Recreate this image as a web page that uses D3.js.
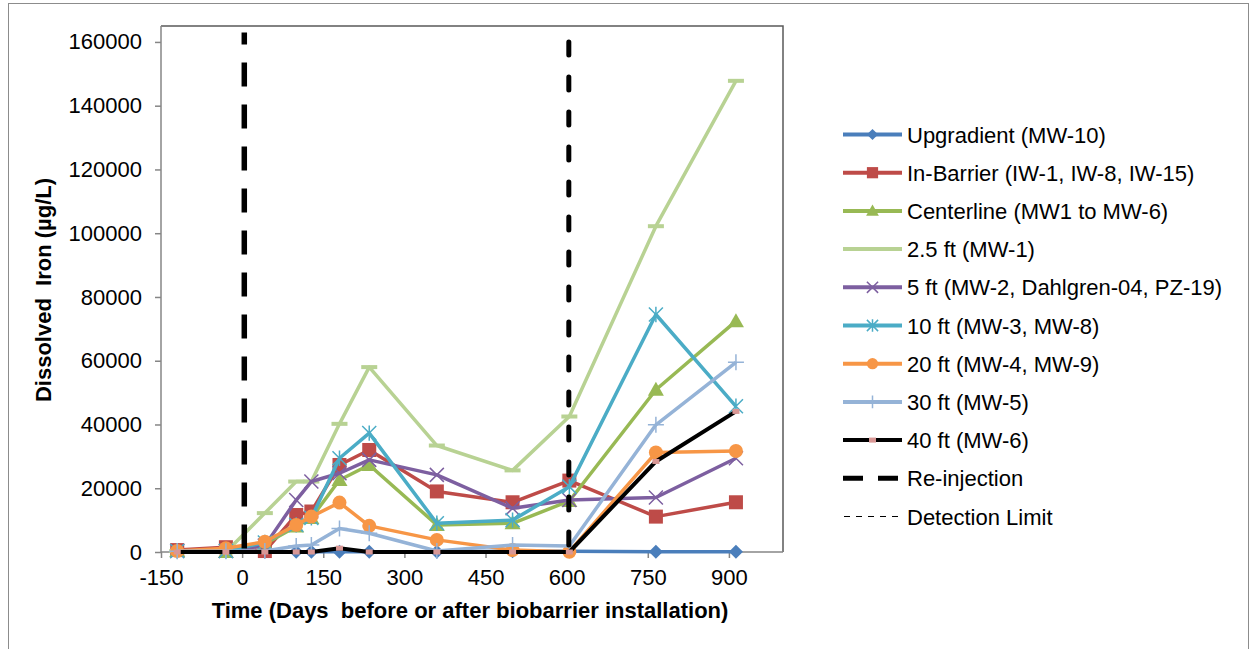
<!DOCTYPE html>
<html><head><meta charset="utf-8">
<script src="https://cdn.jsdelivr.net/npm/d3@7"></script>
<style>html,body{margin:0;padding:0;background:#fff;}svg{display:block;font-family:"Liberation Sans",Arial,sans-serif;}</style>
</head><body>
<svg id="chart" width="1251" height="649"></svg>
<script>
// ---- data ----
const days = [-120, -30, 42, 100, 128, 180, 235, 360, 500, 605, 765, 913];
const upgradient = [200, 300, 100, 100, 100, 100, 100, 100, 200, 200, 100, 100];
const inBarrier = [600, 1500, 300, 11600, 12700, 27300, 32000, 19000, 15600, 22400, 11100, 15600];
const centerline = [300, 0, 2500, 8000, 10700, 22600, 27300, 8500, 9000, 16000, 50900, 72400];
const ft2_5 = [300, 0, 12200, 22100, 22100, 40200, 58000, 33400, 25600, 42500, 102200, 147800];
const ft5 = [300, 300, 2000, 16300, 22100, 24700, 28900, 24200, 13700, 16300, 17100, 29400];
const ft10 = [300, 300, 3000, 8500, 10700, 29400, 37300, 9000, 10000, 20500, 74500, 45700];
const ft20 = [300, 1200, 3200, 8500, 11100, 15500, 8200, 3800, 600, 100, 31200, 31700];
const ft30 = [200, 200, 300, 1900, 2200, 7400, 5900, 300, 2200, 1900, 39900, 59500];
const ft40 = [0, 0, 0, 0, 0, 1200, 0, 0, 0, 0, 28400, 44100];
const reinjectionDays = [4, 604];
const reinjectionTop = [163000, 160000];
const seriesNames = ["Upgradient (MW-10)", "In-Barrier (IW-1, IW-8, IW-15)", "Centerline (MW1 to MW-6)",
  "2.5 ft (MW-1)", "5 ft (MW-2, Dahlgren-04, PZ-19)", "10 ft (MW-3, MW-8)", "20 ft (MW-4, MW-9)",
  "30 ft (MW-5)", "40 ft (MW-6)"];
const xTicks = [-150, 0, 150, 300, 450, 600, 750, 900];
const yTicks = [0, 20000, 40000, 60000, 80000, 100000, 120000, 140000, 160000];

// ---- setup ----
const svg = d3.select("#chart");
const x = d3.scaleLinear().domain([-150, 1000]).range([161, 783]);
const y = d3.scaleLinear().domain([0, 165000]).range([552, 26]);

const series = [
  {name: seriesNames[0], vals: upgradient, color: "#4A7EBB", marker: "diamond"},
  {name: seriesNames[1], vals: inBarrier, color: "#BE4B48", marker: "square"},
  {name: seriesNames[2], vals: centerline, color: "#98B954", marker: "triangle"},
  {name: seriesNames[3], vals: ft2_5, color: "#B8D293", marker: "dash"},
  {name: seriesNames[4], vals: ft5, color: "#7D5FA0", marker: "x"},
  {name: seriesNames[5], vals: ft10, color: "#4BACC6", marker: "star"},
  {name: seriesNames[6], vals: ft20, color: "#F79646", marker: "circle"},
  {name: seriesNames[7], vals: ft30, color: "#95B3D7", marker: "plus"},
  {name: seriesNames[8], vals: ft40, color: "#000000", marker: "pink", width: 4}
];

// outer border
svg.append("rect").attr("x", 8.5).attr("y", 3.5).attr("width", 1240).attr("height", 660)
  .attr("fill", "none").attr("stroke", "#8c8c8c").attr("stroke-width", 1);

// plot frame top/right
svg.append("path").attr("d", `M${x(-150)},${y(165000)}H${x(1000)}V${y(0)}`)
  .attr("fill", "none").attr("stroke", "#595959").attr("stroke-width", 1.5);

// axes
const fmt = d => String(d);
const yAxis = d3.axisLeft(y).tickValues(yTicks).tickSize(6).tickPadding(13).tickFormat(fmt);
const gy = svg.append("g").attr("transform", `translate(${x(-150)},0)`).call(yAxis);
gy.select(".domain").attr("d", `M0,${y(165000)}V${y(0)}`).attr("stroke", "#868686").attr("stroke-width", 1.5);
gy.selectAll(".tick line").attr("stroke", "#868686").attr("stroke-width", 1.5);
gy.selectAll(".tick text").attr("font-size", 22).attr("fill", "#000").attr("font-family", "Liberation Sans, Arial, sans-serif");

const xAxis = d3.axisBottom(x).tickValues(xTicks).tickSize(6).tickPadding(12).tickFormat(fmt);
const gx = svg.append("g").attr("transform", `translate(0,${y(0)})`).call(xAxis);
gx.select(".domain").attr("d", `M${x(-150)},0H${x(1000)}`).attr("stroke", "#868686").attr("stroke-width", 1.5);
gx.selectAll(".tick line").attr("stroke", "#868686").attr("stroke-width", 1.5);
gx.selectAll(".tick text").attr("font-size", 22).attr("fill", "#000").attr("font-family", "Liberation Sans, Arial, sans-serif")
  .attr("dy", null).attr("y", 33);

// axis titles
svg.append("text").attr("x", 470).attr("y", 618).attr("text-anchor", "middle").attr("font-size", 22)
  .attr("font-weight", "bold").attr("xml:space", "preserve").text("Time (Days  before or after biobarrier installation)");
svg.append("text").attr("transform", "translate(51,290) rotate(-90)").attr("text-anchor", "middle")
  .attr("font-size", 22).attr("font-weight", "bold").attr("xml:space", "preserve").text("Dissolved  Iron (µg/L)");

// marker drawing
function drawMarker(g, type, cx, cy, color, scale) {
  const s = scale || 1;
  if (type === "diamond") {
    const r = 7 * s;
    g.append("path").attr("d", `M${cx},${cy - r}L${cx + r},${cy}L${cx},${cy + r}L${cx - r},${cy}Z`).attr("fill", color);
  } else if (type === "square") {
    const h = 7 * s;
    g.append("rect").attr("x", cx - h).attr("y", cy - h).attr("width", 2 * h).attr("height", 2 * h).attr("fill", color);
  } else if (type === "triangle") {
    const h = 8 * s;
    g.append("path").attr("d", `M${cx},${cy - h}L${cx + h},${cy + h * 0.75}L${cx - h},${cy + h * 0.75}Z`).attr("fill", color);
  } else if (type === "dash") {
    g.append("rect").attr("x", cx - 8 * s).attr("y", cy - 2).attr("width", 16 * s).attr("height", 4).attr("fill", color);
  } else if (type === "x") {
    const r = 7 * s;
    g.append("path").attr("d", `M${cx - r},${cy - r}L${cx + r},${cy + r}M${cx - r},${cy + r}L${cx + r},${cy - r}`)
      .attr("stroke", color).attr("stroke-width", 1.5);
  } else if (type === "star") {
    const r = 7 * s;
    g.append("path").attr("d", `M${cx - r},${cy - r}L${cx + r},${cy + r}M${cx - r},${cy + r}L${cx + r},${cy - r}M${cx},${cy - r * 1.1}V${cy + r * 1.1}`)
      .attr("stroke", color).attr("stroke-width", 1.5);
  } else if (type === "circle") {
    g.append("circle").attr("cx", cx).attr("cy", cy).attr("r", 7 * s).attr("fill", color);
  } else if (type === "plus") {
    const r = 8 * s;
    g.append("path").attr("d", `M${cx - r},${cy}H${cx + r}M${cx},${cy - r}V${cy + r}`)
      .attr("stroke", color).attr("stroke-width", 1.5);
  } else if (type === "pink") {
    g.append("rect").attr("x", cx - 3.5).attr("y", cy - 2.5).attr("width", 7).attr("height", 5).attr("fill", "#D99795");
  }
}

const line = d3.line().x(d => x(d[0])).y(d => y(d[1]));
series.forEach(s => {
  const g = svg.append("g");
  const pts = days.map((d, i) => [d, s.vals[i]]);
  g.append("path").attr("d", line(pts)).attr("fill", "none").attr("stroke", s.color)
    .attr("stroke-width", s.width || 3.5).attr("stroke-linejoin", "round");
  pts.forEach(p => drawMarker(g, s.marker, x(p[0]), y(p[1]), s.color));
});

// re-injection lines
svg.append("line").attr("x1", x(reinjectionDays[0])).attr("x2", x(reinjectionDays[0]))
  .attr("y1", y(reinjectionTop[0])).attr("y2", y(0)).attr("stroke", "#000").attr("stroke-width", 5.5)
  .attr("stroke-dasharray", "24,18").attr("stroke-dashoffset", 12);
svg.append("line").attr("x1", x(reinjectionDays[1])).attr("x2", x(reinjectionDays[1]))
  .attr("y1", y(reinjectionTop[1])).attr("y2", y(0)).attr("stroke", "#000").attr("stroke-width", 5)
  .attr("stroke-dasharray", "13,22").attr("stroke-linecap", "round");

// legend
const lg = svg.append("g");
const legX0 = 843, legX1 = 902, legText = 907, legY0 = 134.5, legDy = 38.2;
series.forEach((s, i) => {
  const cy = legY0 + i * legDy;
  lg.append("line").attr("x1", legX0).attr("x2", legX1).attr("y1", cy).attr("y2", cy)
    .attr("stroke", s.color).attr("stroke-width", s.width || 4);
  if (s.marker !== "dash") drawMarker(lg, s.marker, (legX0 + legX1) / 2, cy, s.color, 0.8);
  lg.append("text").attr("x", legText).attr("y", cy + 8).attr("font-size", 22).text(s.name);
});
{
  const cy = legY0 + 9 * legDy;
  lg.append("line").attr("x1", 843).attr("x2", 900).attr("y1", cy).attr("y2", cy)
    .attr("stroke", "#000").attr("stroke-width", 5).attr("stroke-dasharray", "20,15");
  lg.append("text").attr("x", legText).attr("y", cy + 8).attr("font-size", 22).text("Re-injection");
  const cy2 = legY0 + 10 * legDy;
  lg.append("line").attr("x1", 844).attr("x2", 900).attr("y1", cy2).attr("y2", cy2)
    .attr("stroke", "#000").attr("stroke-width", 1).attr("stroke-dasharray", "6,6");
  lg.append("text").attr("x", legText).attr("y", cy2 + 8).attr("font-size", 22).text("Detection Limit");
}
</script>
</body></html>
